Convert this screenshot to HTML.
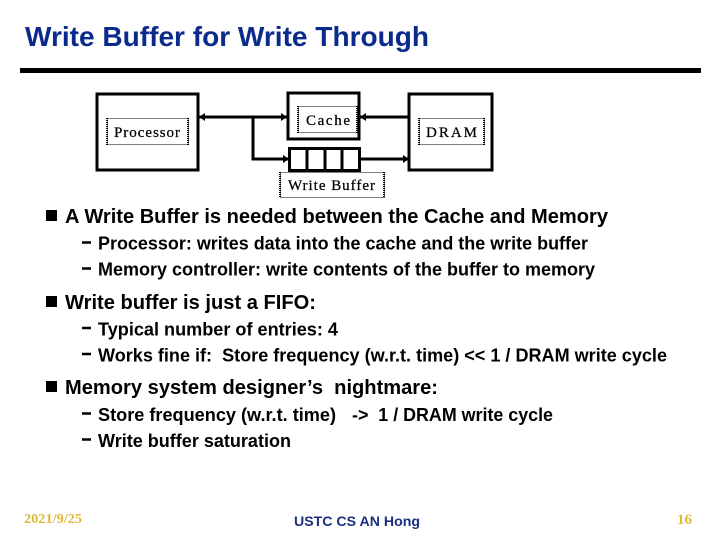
<!DOCTYPE html>
<html><head><meta charset="utf-8"><style>
html,body{margin:0;padding:0;background:#fff;width:720px;height:540px;overflow:hidden}
svg{display:block}
text{font-family:"Liberation Sans",sans-serif}
.m{font-weight:bold;font-size:20px;fill:#000}
.s{font-weight:bold;font-size:18px;fill:#000}
.l{font-family:"Liberation Serif",serif;font-size:15px;fill:#000;stroke:#000;stroke-width:.25}
.d{fill:#fff;stroke:#000;stroke-width:1;stroke-dasharray:1 1}
.e{fill:none;stroke:#000;stroke-width:2;stroke-dasharray:1 1}
.b{fill:#fff;stroke:#000;stroke-width:3}
.c{fill:none;stroke:#000;stroke-width:3}
</style></head><body>
<svg width="720" height="540" viewBox="0 0 720 540" xmlns="http://www.w3.org/2000/svg">
<text x="25" y="46" font-size="28" font-weight="bold" fill="#0a2a8c" textLength="404" lengthAdjust="spacingAndGlyphs">Write Buffer for Write Through</text>
<rect x="20" y="68" width="681" height="5" fill="#000"/>

<rect class="b" x="97" y="94" width="101" height="76"/>
<rect class="b" x="288" y="93" width="71" height="46"/>
<rect class="b" x="409" y="94" width="83" height="76"/>
<rect class="b" x="289.500" y="148.500" width="70" height="22"/>
<path class="c" d="M307 148V170M325 148V170M342 148V170"/>
<path class="c" d="M198 117H287M253 117V159H289M360 117H409M360 159H409"/>
<path d="M199 117l6-4v8zM287 117l-6-4v8zM289 159l-6-4v8zM360 117l6-4v8zM409 159l-6-4v8z" fill="#000"/>

<rect class="d" x="107.500" y="118.500" width="81" height="26"/>
<rect class="d" x="298.500" y="106.500" width="59" height="26"/>
<rect class="d" x="419.500" y="118.500" width="65" height="26"/>
<rect class="d" x="280.500" y="172.500" width="104" height="25"/>
<path class="e" d="M107 118V145M188 118V145M298 106V133M357 106V133M419 118V145M484 118V145M280 172V198M384 172V198"/>
<text class="l" x="114" y="137" textLength="66">Processor</text>
<text class="l" x="306" y="125" textLength="44">Cache</text>
<text class="l" x="426" y="137" textLength="51">DRAM</text>
<text class="l" x="288" y="190" textLength="87">Write Buffer</text>

<rect x="46" y="210" width="11" height="11" fill="#000"/>
<rect x="46" y="296" width="11" height="11" fill="#000"/>
<rect x="46" y="381" width="11" height="11" fill="#000"/>
<path d="M82 242.500h9M82 268.500h9M82 328h9M82 354h9M82 413.500h9M82 439.500h9" stroke="#000" stroke-width="2.500"/>

<text class="m" x="65" y="223" textLength="543" lengthAdjust="spacingAndGlyphs">A Write Buffer is needed between the Cache and Memory</text>
<text class="s" x="98" y="249.500" textLength="490" lengthAdjust="spacingAndGlyphs">Processor: writes data into the cache and the write buffer</text>
<text class="s" x="98" y="275.500" textLength="497" lengthAdjust="spacingAndGlyphs">Memory controller: write contents of the buffer to memory</text>
<text class="m" x="65" y="309" textLength="251" lengthAdjust="spacingAndGlyphs">Write buffer is just a FIFO:</text>
<text class="s" x="98" y="335.500" textLength="240" lengthAdjust="spacingAndGlyphs">Typical number of entries: 4</text>
<text class="s" x="98" y="361.500" xml:space="preserve" textLength="569" lengthAdjust="spacingAndGlyphs">Works fine if:  Store frequency (w.r.t. time) &lt;&lt; 1 / DRAM write cycle</text>
<text class="m" x="65" y="394" xml:space="preserve" textLength="373" lengthAdjust="spacingAndGlyphs">Memory system designer’s  nightmare:</text>
<text class="s" x="98" y="421" textLength="238" lengthAdjust="spacingAndGlyphs">Store frequency (w.r.t. time)</text>
<text class="s" x="352" y="421" xml:space="preserve" textLength="201" lengthAdjust="spacingAndGlyphs">-&gt;  1 / DRAM write cycle</text>
<text class="s" x="98" y="447" textLength="193" lengthAdjust="spacingAndGlyphs">Write buffer saturation</text>

<text x="24" y="523" font-size="14" font-weight="bold" fill="#e0b83a" style="font-family:'Liberation Serif',serif" textLength="58" lengthAdjust="spacingAndGlyphs">2021/9/25</text>
<text x="294" y="526" font-size="14" font-weight="bold" fill="#1a2f80" textLength="126" lengthAdjust="spacingAndGlyphs">USTC CS AN Hong</text>
<text x="677" y="524" font-size="15" font-weight="bold" fill="#e0b83a" style="font-family:'Liberation Serif',serif" textLength="15" lengthAdjust="spacingAndGlyphs">16</text>
</svg>
</body></html>
